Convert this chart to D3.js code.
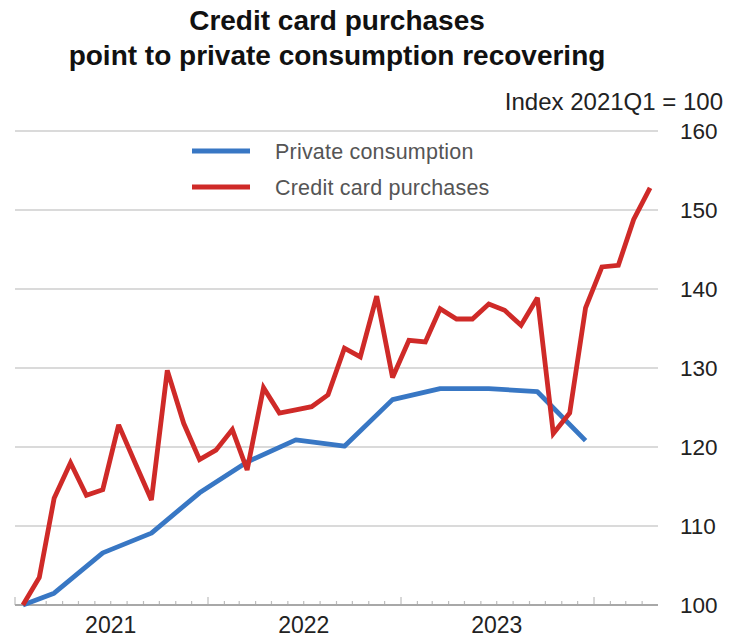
<!DOCTYPE html>
<html>
<head>
<meta charset="utf-8">
<script src="https://cdn.jsdelivr.net/npm/d3@7"></script>
<style>
  html, body { margin: 0; padding: 0; background: #fff; }
  svg { display: block; font-family: "Liberation Sans", Arial, sans-serif; }
</style>
</head>
<body>
<svg id="chart" width="738" height="639"></svg>
<script>
// Monthly credit card purchases, index 2021Q1 = 100
const cardMonths = [
  "2021-01","2021-02","2021-03","2021-04","2021-05","2021-06","2021-07","2021-08","2021-09","2021-10","2021-11","2021-12",
  "2022-01","2022-02","2022-03","2022-04","2022-05","2022-06","2022-07","2022-08","2022-09","2022-10","2022-11","2022-12",
  "2023-01","2023-02","2023-03","2023-04","2023-05","2023-06","2023-07","2023-08","2023-09","2023-10","2023-11","2023-12",
  "2024-01","2024-02","2024-03","2024-04"
];
const cardValues = [
  100, 103.5, 113.5, 118.0, 113.9, 114.6, 122.8, 118.0, 113.3, 129.7, 123.0, 118.4,
  119.6, 122.2, 117.1, 127.5, 124.3, 124.7, 125.1, 126.6, 132.5, 131.4, 139.1, 128.8,
  133.5, 133.3, 137.5, 136.2, 136.2, 138.1, 137.3, 135.4, 138.9, 121.7, 124.3, 137.6,
  142.8, 143.0, 148.8, 152.8
];

// Private consumption, quarterly observations
const consMonths = ["2021-01","2021-03","2021-06","2021-09","2021-12","2022-03","2022-06","2022-09","2022-12","2023-03","2023-06","2023-09","2023-12"];
const consValues = [100, 101.5, 106.6, 109.1, 114.2, 118.1, 120.9, 120.1, 126.0, 127.4, 127.4, 127.0, 120.8];

const yTicks = [100, 110, 120, 130, 140, 150, 160];
const yearLabels = ["2021", "2022", "2023"];

const titleLines = ["Credit card purchases", "point to private consumption recovering"];
const unitLabel = "Index 2021Q1 = 100";
const seriesNames = ["Private consumption", "Credit card purchases"];
const seriesColors = ["#3877c4", "#cf2a28"];

const svg = d3.select("#chart");
const parseMonth = d3.timeParse("%Y-%m");
const midMonth = s => { const d = parseMonth(s); return new Date(d.getFullYear(), d.getMonth(), 16); };

const x = d3.scaleTime()
  .domain([new Date(2021, 0, 1), new Date(2024, 4, 1)])
  .range([15, 658]);
const y = d3.scaleLinear().domain([100, 160]).range([605, 131]);

// Title
svg.append("g").selectAll("text").data(titleLines).join("text")
  .attr("x", 337).attr("y", (d, i) => 30 + i * 35)
  .attr("text-anchor", "middle")
  .attr("font-size", 28).attr("font-weight", "bold").attr("fill", "#111")
  .text(d => d);

svg.append("text")
  .attr("x", 723).attr("y", 110)
  .attr("text-anchor", "end")
  .attr("font-size", 24).attr("fill", "#222")
  .text(unitLabel);

// Horizontal grid
svg.append("g").selectAll("line").data(yTicks.filter(v => v > 100)).join("line")
  .attr("x1", 15).attr("x2", 658)
  .attr("y1", d => y(d)).attr("y2", d => y(d))
  .attr("stroke", "#dadada").attr("stroke-width", 2);

// Right-hand value axis labels
const yAxis = d3.axisRight(y).tickValues(yTicks).tickSize(0).tickPadding(0);
svg.append("g")
  .attr("transform", "translate(680,0)")
  .call(yAxis)
  .call(g => g.select(".domain").remove())
  .call(g => g.selectAll("text")
    .attr("font-size", 22.5).attr("fill", "#222")
    .attr("font-family", "Liberation Sans, Arial, sans-serif"));

// Bottom axis: monthly minor ticks, yearly major ticks
const months = d3.timeMonth.range(new Date(2021, 0, 1), new Date(2024, 4, 1));
const axisG = svg.append("g");
axisG.selectAll("line.tick").data(months).join("line")
  .attr("class", "tick")
  .attr("x1", d => x(d)).attr("x2", d => x(d))
  .attr("y1", 605)
  .attr("y2", d => d.getMonth() === 0 ? 597 : 601)
  .attr("stroke", "#bdbdbd").attr("stroke-width", 1.2);
axisG.append("line")
  .attr("x1", 15).attr("x2", 658).attr("y1", 605).attr("y2", 605)
  .attr("stroke", "#a8a8a8").attr("stroke-width", 2);
axisG.selectAll("text").data(yearLabels).join("text")
  .attr("x", d => x(new Date(+d, 6, 1)))
  .attr("y", 633)
  .attr("text-anchor", "middle")
  .attr("font-size", 23).attr("fill", "#222")
  .text(d => d);

// Lines
const line = d3.line().x(d => x(d[0])).y(d => y(d[1]));
const consData = consMonths.map((m, i) => [midMonth(m), consValues[i]]);
const cardData = cardMonths.map((m, i) => [midMonth(m), cardValues[i]]);

svg.append("path").datum(consData)
  .attr("d", line).attr("fill", "none")
  .attr("stroke", seriesColors[0]).attr("stroke-width", 4.8)
  .attr("stroke-linejoin", "round");
svg.append("path").datum(cardData)
  .attr("d", line).attr("fill", "none")
  .attr("stroke", seriesColors[1]).attr("stroke-width", 4.8)
  .attr("stroke-linejoin", "miter").attr("stroke-miterlimit", 3);

// Legend
const legend = svg.append("g");
seriesNames.forEach((name, i) => {
  const cy = 151 + i * 36;
  legend.append("line")
    .attr("x1", 192).attr("x2", 250).attr("y1", cy).attr("y2", cy)
    .attr("stroke", seriesColors[i]).attr("stroke-width", 5);
  legend.append("text")
    .attr("x", 275).attr("y", cy + 7.5)
    .attr("font-size", 21.5).attr("fill", "#555")
    .attr("letter-spacing", 0.2)
    .text(name);
});
</script>
</body>
</html>
